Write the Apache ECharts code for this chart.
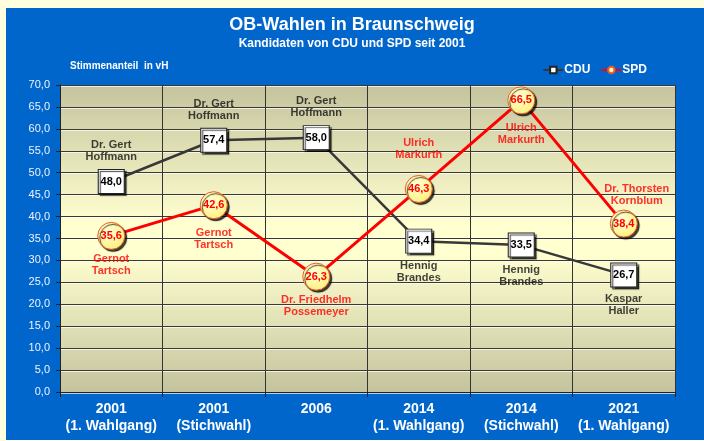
<!DOCTYPE html>
<html>
<head>
<meta charset="utf-8">
<script src="https://cdn.jsdelivr.net/npm/echarts@6/dist/echarts.min.js"></script>
<style>
  body { margin: 0; background: #FFFFE0; }
  #panel { position: absolute; left: 6px; top: 8px; width: 698px; height: 432px; background: #0066CC; }
  #chart { position: absolute; left: 0; top: 0; width: 704px; height: 441px; }
</style>
</head>
<body>
<div id="panel"></div>
<div id="chart"></div>
<script>
//Daten
var categories = ['2001\n(1. Wahlgang)', '2001\n(Stichwahl)', '2006', '2014\n(1. Wahlgang)', '2014\n(Stichwahl)', '2021\n(1. Wahlgang)'];
var cduValues = [48.0, 57.4, 58.0, 34.4, 33.5, 26.7];
var spdValues = [35.6, 42.6, 26.3, 46.3, 66.5, 38.4];
var cduNames = ['Dr. Gert\nHoffmann', 'Dr. Gert\nHoffmann', 'Dr. Gert\nHoffmann', 'Hennig\nBrandes', 'Hennig\nBrandes', 'Kaspar\nHaller'];
var spdNames = ['Gernot\nTartsch', 'Gernot\nTartsch', 'Dr. Friedhelm\nPossemeyer', 'Ulrich\nMarkurth', 'Ulrich\nMarkurth', 'Dr. Thorsten\nKornblum'];
var yTicks = { min: 0, max: 70, step: 5 };

//Beschriftungsseite der Namen
var cduNameSide = ['top', 'top', 'top', 'bottom', 'bottom', 'bottom'];
var spdNameSide = ['bottom', 'bottom', 'bottom', 'top', 'bottom', 'top'];
var spdNameGap = [17, 21, 17, 27, 21, 16];
var spdNameShift = [0, 0, 0, 0, 0, 13];

var FONT = 'Liberation Sans, Arial, sans-serif';

function fmt(v) {
    return v.toFixed(1).replace('.', ',');
}

function nameData(values, names, side, gaps, shift, color) {
    return values.map(function (v, i) {
        return {
            value: [i, v],
            label: {
                show: true,
                position: side[i],
                distance: gaps ? gaps[i] : 18,
                offset: [shift ? shift[i] : 0, 0],
                formatter: names[i],
                color: color,
                fontFamily: FONT,
                fontWeight: 'bold',
                fontSize: 11,
                lineHeight: 12
            }
        };
    });
}

var chart = echarts.init(document.getElementById('chart'), null, { renderer: 'canvas' });

var option = {
    backgroundColor: 'transparent',
    animation: false,
    graphic: [
        {
            type: 'text', left: 'center', top: 16,
            style: { text: 'OB-Wahlen in Braunschweig', fill: '#fff', font: 'bold 18px ' + FONT }
        },
        {
            type: 'text', left: 'center', top: 38,
            style: { text: 'Kandidaten von CDU und SPD seit 2001', fill: '#fff', font: 'bold 12px ' + FONT }
        },
        {
            type: 'text', left: 70, top: 61,
            style: { text: 'Stimmenanteil  in vH', fill: '#fff', font: 'bold 10px ' + FONT }
        }
    ],
    legend: {
        data: ['CDU', 'SPD'],
        right: 52,
        top: 59,
        itemWidth: 20,
        itemHeight: 8,
        itemGap: 10,
        textStyle: { color: '#fff', fontWeight: 'bold', fontSize: 12, fontFamily: FONT, padding: [0, 0, 0, -4] }
    },
    grid: {
        left: 60, right: 29, top: 85, bottom: 49,
        show: true,
        borderWidth: 0,
        outerBoundsMode: 'none',
        backgroundColor: new echarts.graphic.LinearGradient(0, 0, 0, 1, [
            { offset: 0, color: '#C4C39D' },
            { offset: 0.45, color: '#FFFFD0' },
            { offset: 0.55, color: '#FFFFD0' },
            { offset: 1, color: '#C4C39D' }
        ])
    },
    xAxis: {
        type: 'category',
        data: categories,
        boundaryGap: true,
        axisLine: { lineStyle: { color: '#222', width: 1 } },
        axisTick: { show: true, length: 5, lineStyle: { color: '#222' } },
        splitLine: { show: true, lineStyle: { color: '#333', width: 1 } },
        axisLabel: {
            interval: 0,
            color: '#fff',
            fontFamily: FONT,
            fontWeight: 'bold',
            fontSize: 14,
            lineHeight: 17,
            margin: 9
        }
    },
    yAxis: {
        type: 'value',
        min: yTicks.min,
        max: yTicks.max,
        interval: yTicks.step,
        axisLine: { show: true, lineStyle: { color: '#222', width: 1 } },
        axisTick: { show: true, length: 4, lineStyle: { color: '#222' } },
        splitLine: {
            show: true,
            lineStyle: { color: '#3a3a30', width: 1, shadowColor: 'rgba(255,255,255,0.7)', shadowOffsetY: 1 }
        },
        axisLabel: {
            color: '#EEF3FF',
            fontFamily: FONT,
            fontSize: 11,
            margin: 10,
            formatter: fmt
        }
    },
    series: [
        {
            name: 'CDU',
            type: 'line',
            data: cduValues,
            z: 3,
            silent: true,
            symbol: 'rect',
            symbolSize: [26, 24],
            lineStyle: { color: '#383838', width: 2.5 },
            itemStyle: {
                color: '#fff', borderColor: '#222', borderWidth: 1,
                shadowColor: 'rgba(0,0,0,0.75)', shadowOffsetX: 2, shadowOffsetY: 2, shadowBlur: 1
            },
            label: {
                show: true, position: 'inside', color: '#000',
                fontFamily: FONT, fontWeight: 'bold', fontSize: 11,
                formatter: function (p) { return fmt(p.value); }
            }
        },
        {
            name: 'SPD',
            type: 'line',
            data: spdValues,
            z: 4,
            silent: true,
            symbol: 'circle',
            symbolSize: 27,
            lineStyle: { color: '#FF0000', width: 3 },
            itemStyle: {
                color: new echarts.graphic.RadialGradient(0.4, 0.35, 0.7, [
                    { offset: 0, color: '#FFFFD8' },
                    { offset: 1, color: '#FFF07A' }
                ]),
                borderColor: '#F05A28', borderWidth: 1,
                shadowColor: 'rgba(0,0,0,0.75)', shadowOffsetX: 2, shadowOffsetY: 2, shadowBlur: 1
            },
            label: {
                show: true, position: 'inside', color: '#FF0000',
                fontFamily: FONT, fontWeight: 'bold', fontSize: 11,
                formatter: function (p) { return fmt(p.value); }
            }
        },
        {
            name: 'CDU Namen',
            type: 'scatter',
            silent: true,
            z: 5,
            symbolSize: 1,
            itemStyle: { color: 'rgba(0,0,0,0)' },
            data: nameData(cduValues, cduNames, cduNameSide, null, null, '#111')
        },
        {
            name: 'SPD Namen',
            type: 'scatter',
            silent: true,
            z: 5,
            symbolSize: 1,
            itemStyle: { color: 'rgba(0,0,0,0)' },
            data: nameData(spdValues, spdNames, spdNameSide, spdNameGap, spdNameShift, '#FF0000')
        }
    ]
};
chart.setOption(option);
</script>
</body>
</html>
